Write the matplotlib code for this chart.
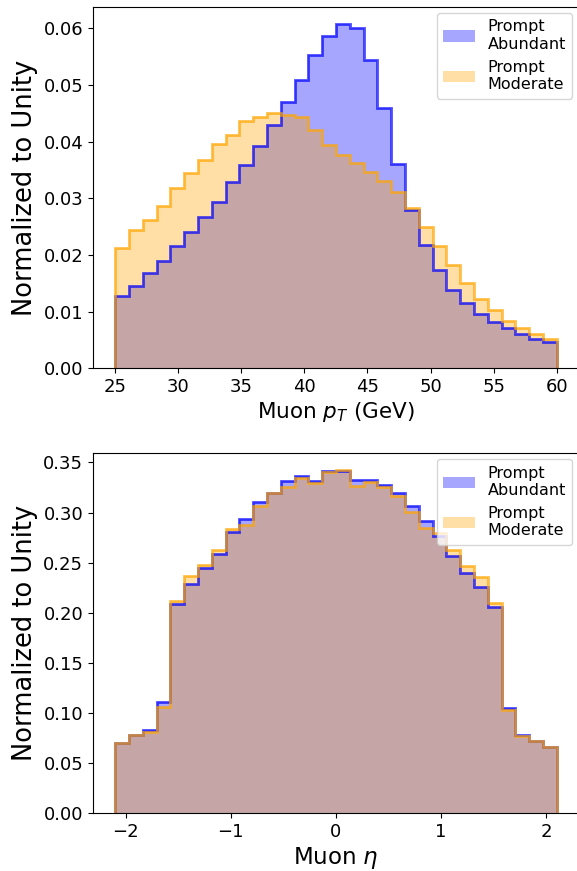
import numpy as np
import matplotlib
matplotlib.use("Agg")
import matplotlib.pyplot as plt

# histogram bin edges (32 bins each)
pt_edges = np.linspace(25, 60, 33)
eta_edges = np.linspace(-2.1, 2.1, 33)

# normalized bin contents
pt_abundant = [0.0127, 0.0146, 0.0169, 0.0190, 0.0215, 0.0240, 0.0267, 0.0294,
               0.0328, 0.0358, 0.0393, 0.0429, 0.0470, 0.0509, 0.0553, 0.0587,
               0.0608, 0.0600, 0.0544, 0.0459, 0.0361, 0.0280, 0.0218, 0.0174,
               0.0139, 0.0115, 0.0096, 0.0082, 0.0071, 0.0061, 0.0052, 0.0047]
pt_moderate = [0.0212, 0.0244, 0.0262, 0.0287, 0.0318, 0.0344, 0.0368, 0.0396,
               0.0411, 0.0436, 0.0443, 0.0451, 0.0447, 0.0443, 0.0420, 0.0394,
               0.0377, 0.0362, 0.0347, 0.0330, 0.0312, 0.0283, 0.0250, 0.0216,
               0.0183, 0.0150, 0.0122, 0.0102, 0.0084, 0.0071, 0.0061, 0.0052]

eta_abundant = [0.0703, 0.0777, 0.0830, 0.1112, 0.2091, 0.2291, 0.2446, 0.2590,
                0.2805, 0.2938, 0.3104, 0.3197, 0.3320, 0.3367, 0.3320, 0.3413,
                0.3413, 0.3327, 0.3327, 0.3277, 0.3197, 0.3070, 0.2921, 0.2762,
                0.2572, 0.2397, 0.2257, 0.2058, 0.1052, 0.0780, 0.0720, 0.0657]
eta_moderate = [0.0705, 0.0782, 0.0807, 0.1062, 0.2118, 0.2367, 0.2480, 0.2623,
                0.2832, 0.2880, 0.3070, 0.3195, 0.3260, 0.3345, 0.3293, 0.3403,
                0.3426, 0.3270, 0.3303, 0.3260, 0.3170, 0.3004, 0.2849, 0.2795,
                0.2623, 0.2463, 0.2357, 0.2102, 0.1029, 0.0770, 0.0720, 0.0664]

labels = ["Prompt\nAbundant", "Prompt\nModerate"]
colors = ["blue", "orange"]


def draw_panel(ax, edges, series, xlabel, xlabel_size):
    centers = 0.5 * (edges[:-1] + edges[1:])
    # filled histograms first
    for vals, c, lbl in zip(series, colors, labels):
        ax.hist(centers, bins=edges, weights=vals, color=c, alpha=0.35, label=lbl)
    # then the outlines
    for vals, c in zip(series, colors):
        ax.hist(centers, bins=edges, weights=vals, color=c, histtype="step",
                linewidth=2, alpha=0.7)
    ax.set_xlabel(xlabel, fontsize=xlabel_size, labelpad=3)
    ax.set_ylabel("Normalized to Unity", fontsize=18.5)
    ax.tick_params(labelsize=13)
    ax.spines["right"].set_visible(False)  # cropped off in the reference
    ax.legend(loc="upper right", fontsize=11.5, borderaxespad=0.4)


fig = plt.figure(figsize=(5.77, 8.71), dpi=100)
ax1 = fig.add_axes([0.1612, 0.5772, 0.842, 0.4152])
ax2 = fig.add_axes([0.1612, 0.0662, 0.842, 0.4140])

draw_panel(ax1, pt_edges, [pt_abundant, pt_moderate], "Muon $p_T$ (GeV)", 15.5)
draw_panel(ax2, eta_edges, [eta_abundant, eta_moderate], r"Muon $\eta$", 16.5)

fig.savefig("out.png", dpi=100)
